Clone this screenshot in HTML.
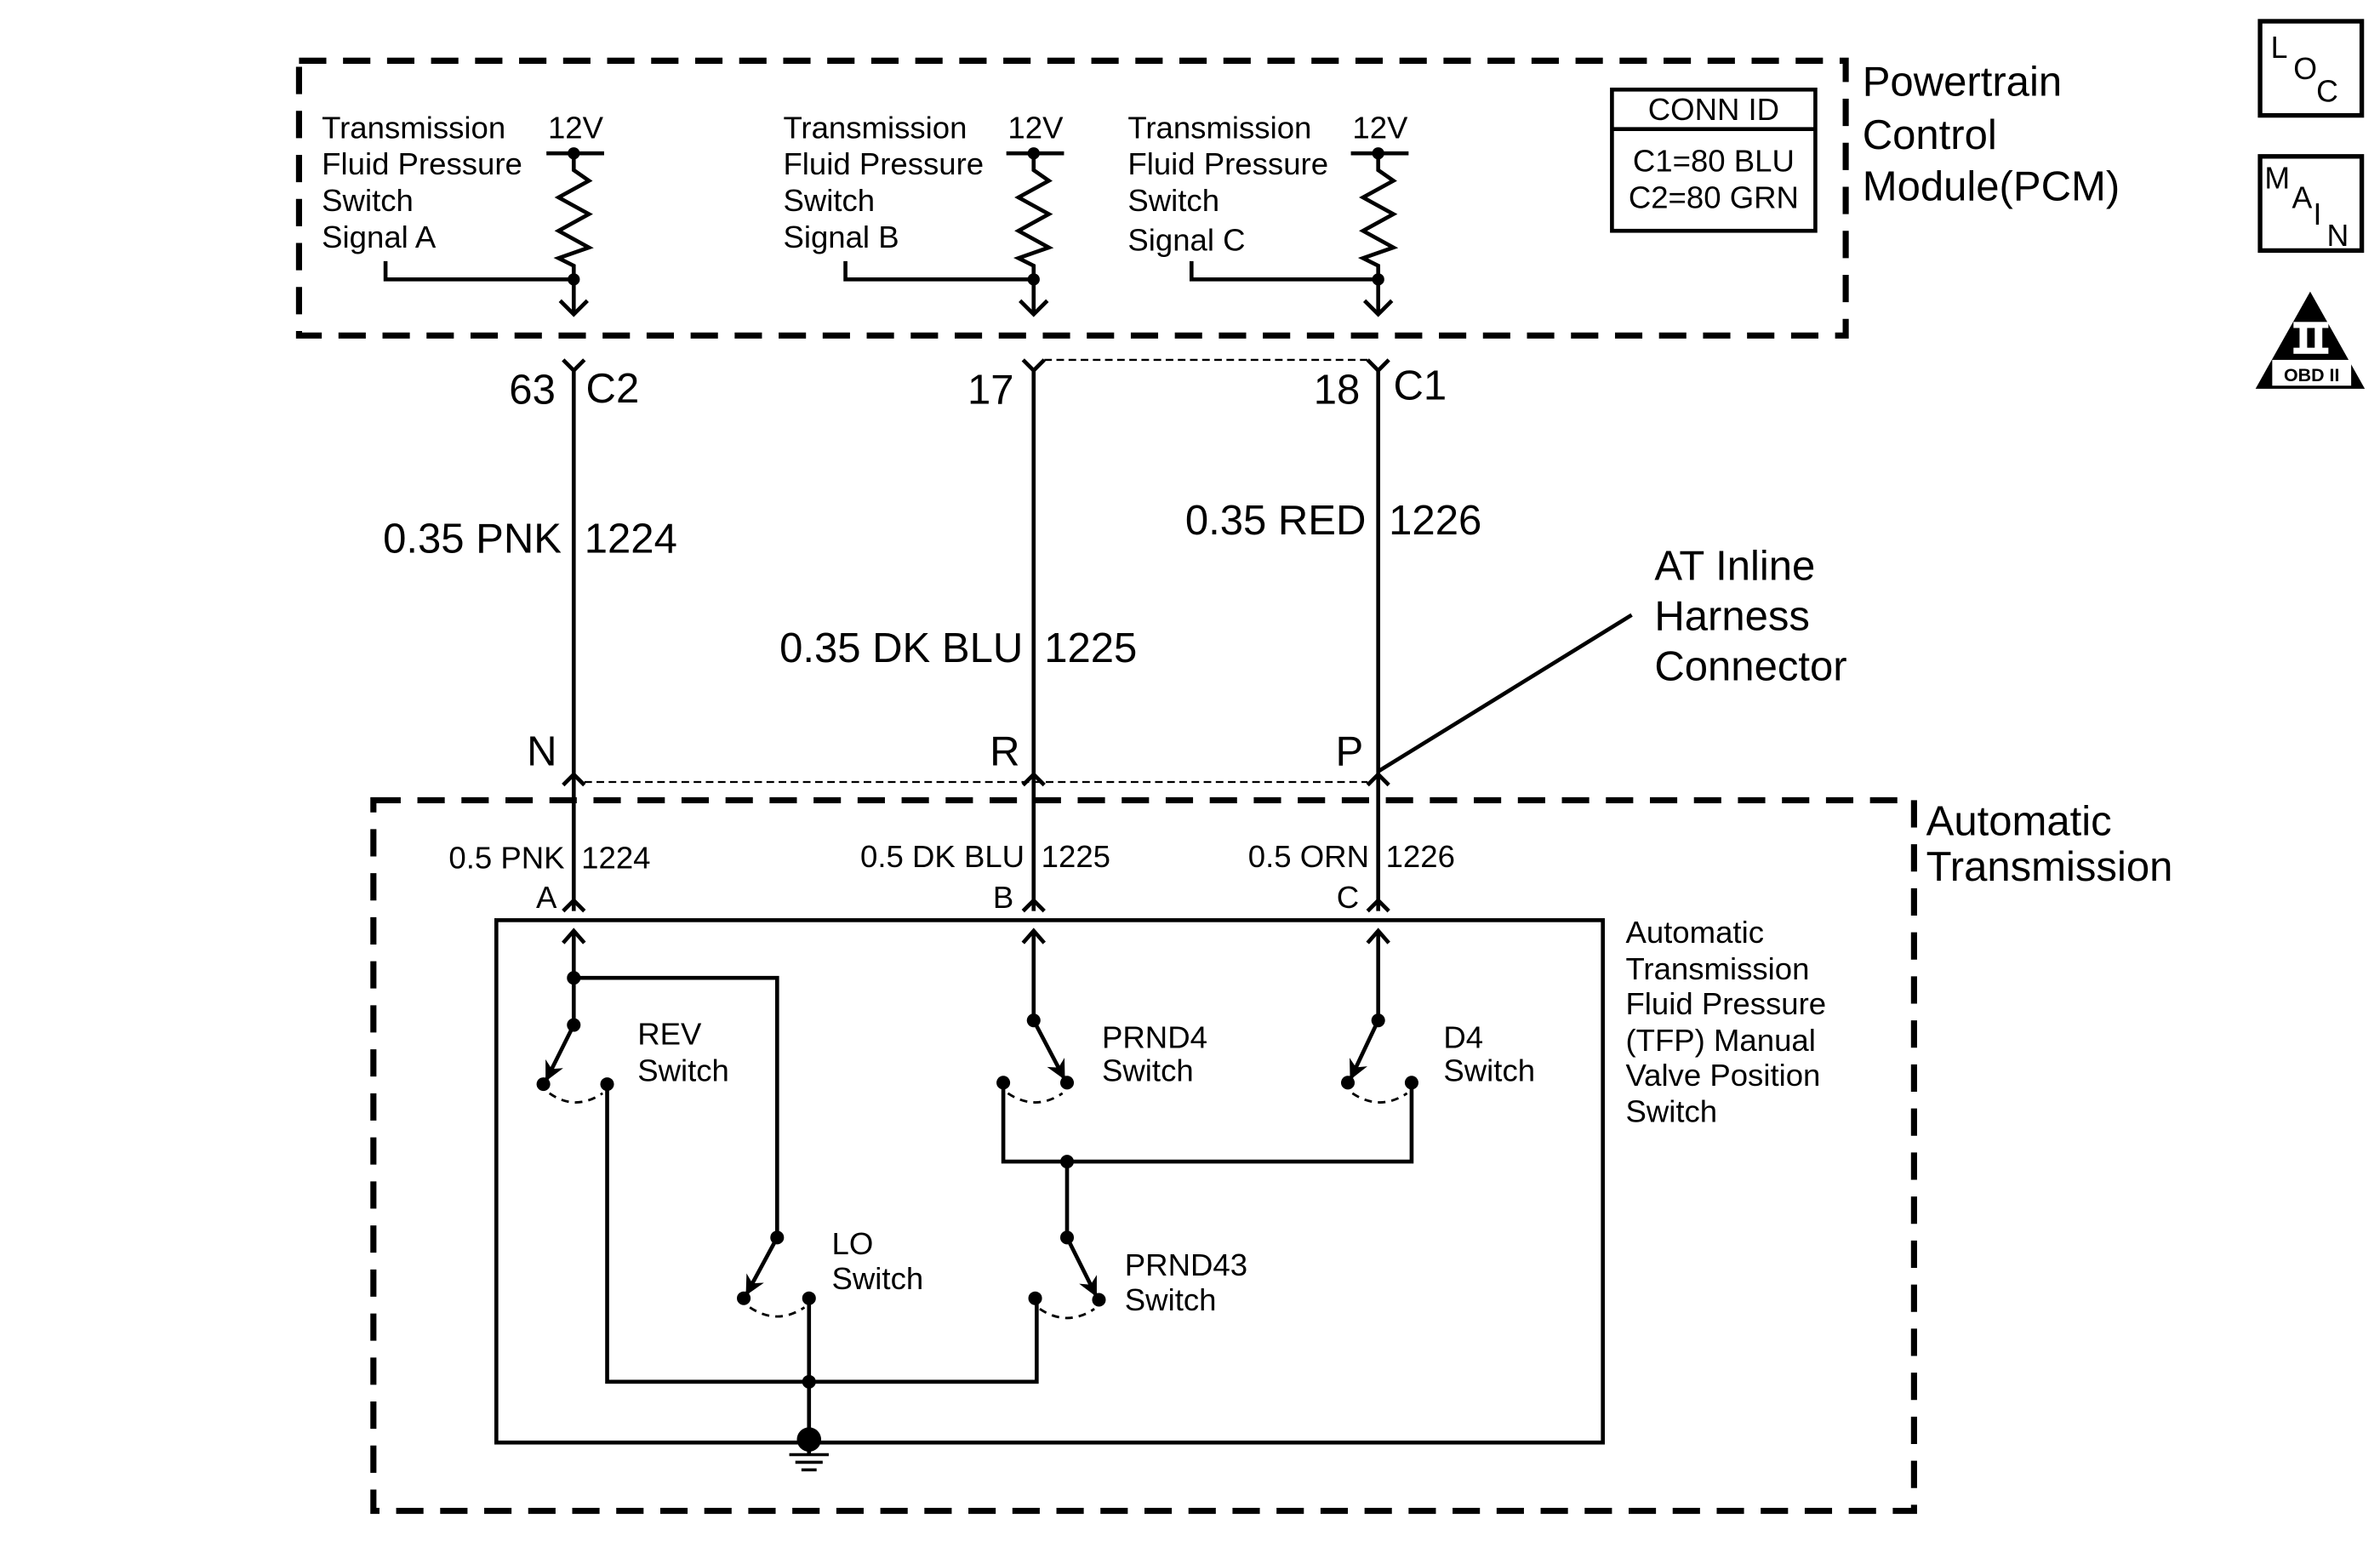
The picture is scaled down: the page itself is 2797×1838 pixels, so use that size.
<!DOCTYPE html>
<html><head><meta charset="utf-8"><style>
html,body{margin:0;padding:0;background:#fff}
svg{display:block}
text{font-family:"Liberation Sans",Arial,sans-serif;fill:#000}
</style></head><body>
<svg width="2797" height="1838" viewBox="0 0 1568 1030" preserveAspectRatio="none" xmlns="http://www.w3.org/2000/svg">
<defs>
<marker id="ah" viewBox="0 0 10 10" refX="9" refY="5" markerWidth="5" markerHeight="5" orient="auto-start-reverse"><path d="M0,0 L10,5 L0,10 L3,5 z" fill="#000"/></marker>
</defs>
<g fill="none" stroke="#000" stroke-width="2.6">
<rect x="197" y="40" width="1019" height="181" stroke-width="4" stroke-dasharray="18,11"/>
<rect x="246" y="527" width="1015" height="468" stroke-width="4" stroke-dasharray="18,11"/>
<rect x="327" y="606" width="729" height="344"/>
<rect x="1062" y="59" width="134" height="93"/>
<line x1="1062" y1="85" x2="1196" y2="85"/>

<g>
<line x1="360" y1="101" x2="398" y2="101"/>
<polyline points="378,101 378,112 388,119 368,130 388,141 368,152 388,163 368,170 378,175 378,207"/>
<polyline points="369,198 378,207 387,198"/>
</g>
<polyline points="254,172 254,184 378,184"/>
<g transform="translate(303,0)">
<line x1="360" y1="101" x2="398" y2="101"/>
<polyline points="378,101 378,112 388,119 368,130 388,141 368,152 388,163 368,170 378,175 378,207"/>
<polyline points="369,198 378,207 387,198"/>
</g>
<polyline points="557,172 557,184 681,184"/>
<g transform="translate(530,0)">
<line x1="360" y1="101" x2="398" y2="101"/>
<polyline points="378,101 378,112 388,119 368,130 388,141 368,152 388,163 368,170 378,175 378,207"/>
<polyline points="369,198 378,207 387,198"/>
</g>
<polyline points="785,172 785,184 908,184"/>

<polyline points="371,237 378,244 385,237"/><line x1="378" y1="244" x2="378" y2="510"/>
<polyline points="674,237 681,244 688,237"/><line x1="681" y1="244" x2="681" y2="510"/>
<polyline points="901,237 908,244 915,237"/><line x1="908" y1="244" x2="908" y2="510"/>
<line x1="688" y1="237" x2="901" y2="237" stroke-width="1.3" stroke-dasharray="5,3"/>
<line x1="385" y1="515" x2="901" y2="515" stroke-width="1.3" stroke-dasharray="5,3"/>
<line x1="908" y1="508" x2="1075" y2="405"/>
<polyline points="371,517 378,510 385,517"/><line x1="378" y1="510" x2="378" y2="600"/><polyline points="371,600 378,593 385,600"/>
<polyline points="674,517 681,510 688,517"/><line x1="681" y1="510" x2="681" y2="600"/><polyline points="674,600 681,593 688,600"/>
<polyline points="901,517 908,510 915,517"/><line x1="908" y1="510" x2="908" y2="600"/><polyline points="901,600 908,593 915,600"/>
<polyline points="371,621 378,613 385,621"/><line x1="378" y1="613" x2="378" y2="675"/>
<polyline points="674,621 681,613 688,621"/><line x1="681" y1="613" x2="681" y2="672"/>
<polyline points="901,621 908,613 915,621"/><line x1="908" y1="613" x2="908" y2="672"/>

<polyline points="378,644 512,644 512,815"/>
<line x1="378" y1="675" x2="360" y2="711" marker-end="url(#ah)"/>
<path d="M362,720 Q379,732 397,720" stroke-width="1.6" stroke-dasharray="5,4"/>
<polyline points="400,714 400,910 683,910 683,855"/>
<line x1="512" y1="815" x2="492" y2="852" marker-end="url(#ah)"/>
<path d="M494,861 Q512,873 530,861" stroke-width="1.6" stroke-dasharray="5,4"/>
<line x1="533" y1="855" x2="533" y2="948"/>
<line x1="681" y1="672" x2="701" y2="710" marker-end="url(#ah)"/>
<path d="M664,720 Q682,732 700,720" stroke-width="1.6" stroke-dasharray="5,4"/>
<polyline points="661,713 661,765 930,765 930,713"/>
<line x1="908" y1="672" x2="890" y2="710" marker-end="url(#ah)"/>
<path d="M891,720 Q909,732 927,720" stroke-width="1.6" stroke-dasharray="5,4"/>
<line x1="703" y1="765" x2="703" y2="815"/>
<line x1="703" y1="815" x2="722" y2="853" marker-end="url(#ah)"/>
<path d="M685,862 Q703,874 721,862" stroke-width="1.6" stroke-dasharray="5,4"/>
<line x1="520" y1="958" x2="546" y2="958" stroke-width="2"/>
<line x1="524" y1="963" x2="542" y2="963" stroke-width="2"/>
<line x1="528" y1="968" x2="538" y2="968" stroke-width="2"/>
<line x1="533" y1="948" x2="533" y2="958"/>
<rect x="1489" y="14" width="67" height="62" stroke-width="3"/>
<rect x="1489" y="103" width="67" height="62" stroke-width="3"/>
</g>
<g fill="#000">
<circle cx="378" cy="101" r="4"/><circle cx="378" cy="184" r="4"/>
<circle cx="681" cy="101" r="4"/><circle cx="681" cy="184" r="4"/>
<circle cx="908" cy="101" r="4"/><circle cx="908" cy="184" r="4"/>
<circle cx="378" cy="644" r="4.5"/><circle cx="378" cy="675" r="4.5"/><circle cx="358" cy="714" r="4.5"/><circle cx="400" cy="714" r="4.5"/>
<circle cx="512" cy="815" r="4.5"/><circle cx="490" cy="855" r="4.5"/><circle cx="533" cy="855" r="4.5"/>
<circle cx="681" cy="672" r="4.5"/><circle cx="661" cy="713" r="4.5"/><circle cx="703" cy="713" r="4.5"/>
<circle cx="908" cy="672" r="4.5"/><circle cx="888" cy="713" r="4.5"/><circle cx="930" cy="713" r="4.5"/>
<circle cx="703" cy="765" r="4.5"/><circle cx="703" cy="815" r="4.5"/><circle cx="682" cy="855" r="4.5"/><circle cx="724" cy="856" r="4.5"/>
<circle cx="533" cy="910" r="4.5"/><circle cx="533" cy="948" r="8"/>
<polygon points="1522,192 1558,256 1486,256"/>
</g>
<g fill="#fff">
<rect x="1511" y="212" width="23" height="4"/><rect x="1511" y="229" width="23" height="4"/>
<rect x="1515" y="214" width="5" height="17"/><rect x="1525" y="214" width="5" height="17"/>
<rect x="1497" y="237" width="52" height="17"/>
</g>
<g font-size="20.5">
<text x="212" y="91">Transmission</text><text x="212" y="115">Fluid Pressure</text><text x="212" y="139">Switch</text><text x="212" y="163">Signal A</text>
<text x="516" y="91">Transmission</text><text x="516" y="115">Fluid Pressure</text><text x="516" y="139">Switch</text><text x="516" y="163">Signal B</text>
<text x="743" y="91">Transmission</text><text x="743" y="115">Fluid Pressure</text><text x="743" y="139">Switch</text><text x="743" y="165">Signal C</text>
<text x="361" y="91">12V</text><text x="664" y="91">12V</text><text x="891" y="91">12V</text>
<text x="1129" y="79" text-anchor="middle">CONN ID</text>
<text x="1129" y="113" text-anchor="middle">C1=80 BLU</text>
<text x="1129" y="137" text-anchor="middle">C2=80 GRN</text>
<text x="372" y="572" text-anchor="end">0.5 PNK</text><text x="383" y="572">1224</text>
<text x="675" y="571" text-anchor="end">0.5 DK BLU</text><text x="686" y="571">1225</text>
<text x="902" y="571" text-anchor="end">0.5 ORN</text><text x="913" y="571">1226</text>
<text x="360" y="598" text-anchor="middle">A</text><text x="661" y="598" text-anchor="middle">B</text><text x="888" y="598" text-anchor="middle">C</text>
<text x="420" y="688">REV</text><text x="420" y="712">Switch</text>
<text x="548" y="826">LO</text><text x="548" y="849">Switch</text>
<text x="726" y="690">PRND4</text><text x="726" y="712">Switch</text>
<text x="951" y="690">D4</text><text x="951" y="712">Switch</text>
<text x="741" y="840">PRND43</text><text x="741" y="863">Switch</text>
<text x="1071" y="621">Automatic</text><text x="1071" y="645">Transmission</text><text x="1071" y="668">Fluid Pressure</text><text x="1071" y="692">(TFP) Manual</text><text x="1071" y="715">Valve Position</text><text x="1071" y="739">Switch</text>
</g>
<g font-size="27.5">
<text x="1227" y="63">Powertrain</text><text x="1227" y="98">Control</text><text x="1227" y="132">Module(PCM)</text>
<text x="366" y="266" text-anchor="end">63</text><text x="386" y="265">C2</text>
<text x="668" y="266" text-anchor="end">17</text>
<text x="896" y="266" text-anchor="end">18</text><text x="918" y="263">C1</text>
<text x="370" y="364" text-anchor="end">0.35 PNK</text><text x="385" y="364">1224</text>
<text x="674" y="436" text-anchor="end">0.35 DK BLU</text><text x="688" y="436">1225</text>
<text x="900" y="352" text-anchor="end">0.35 RED</text><text x="915" y="352">1226</text>
<text x="1090" y="382">AT Inline</text><text x="1090" y="415">Harness</text><text x="1090" y="448">Connector</text>
<text x="357" y="504" text-anchor="middle">N</text><text x="662" y="504" text-anchor="middle">R</text><text x="889" y="504" text-anchor="middle">P</text>
<text x="1269" y="550">Automatic</text><text x="1269" y="580">Transmission</text>
</g>
<g font-size="20">
<text x="1496" y="38">L</text><text x="1511" y="52">O</text><text x="1526" y="67">C</text>
<text x="1492" y="124">M</text><text x="1510" y="137">A</text><text x="1524" y="148">I</text><text x="1533" y="162">N</text>
</g>
<text x="1523" y="251" font-size="12" font-weight="bold" text-anchor="middle">OBD II</text>
</svg>
</body></html>
